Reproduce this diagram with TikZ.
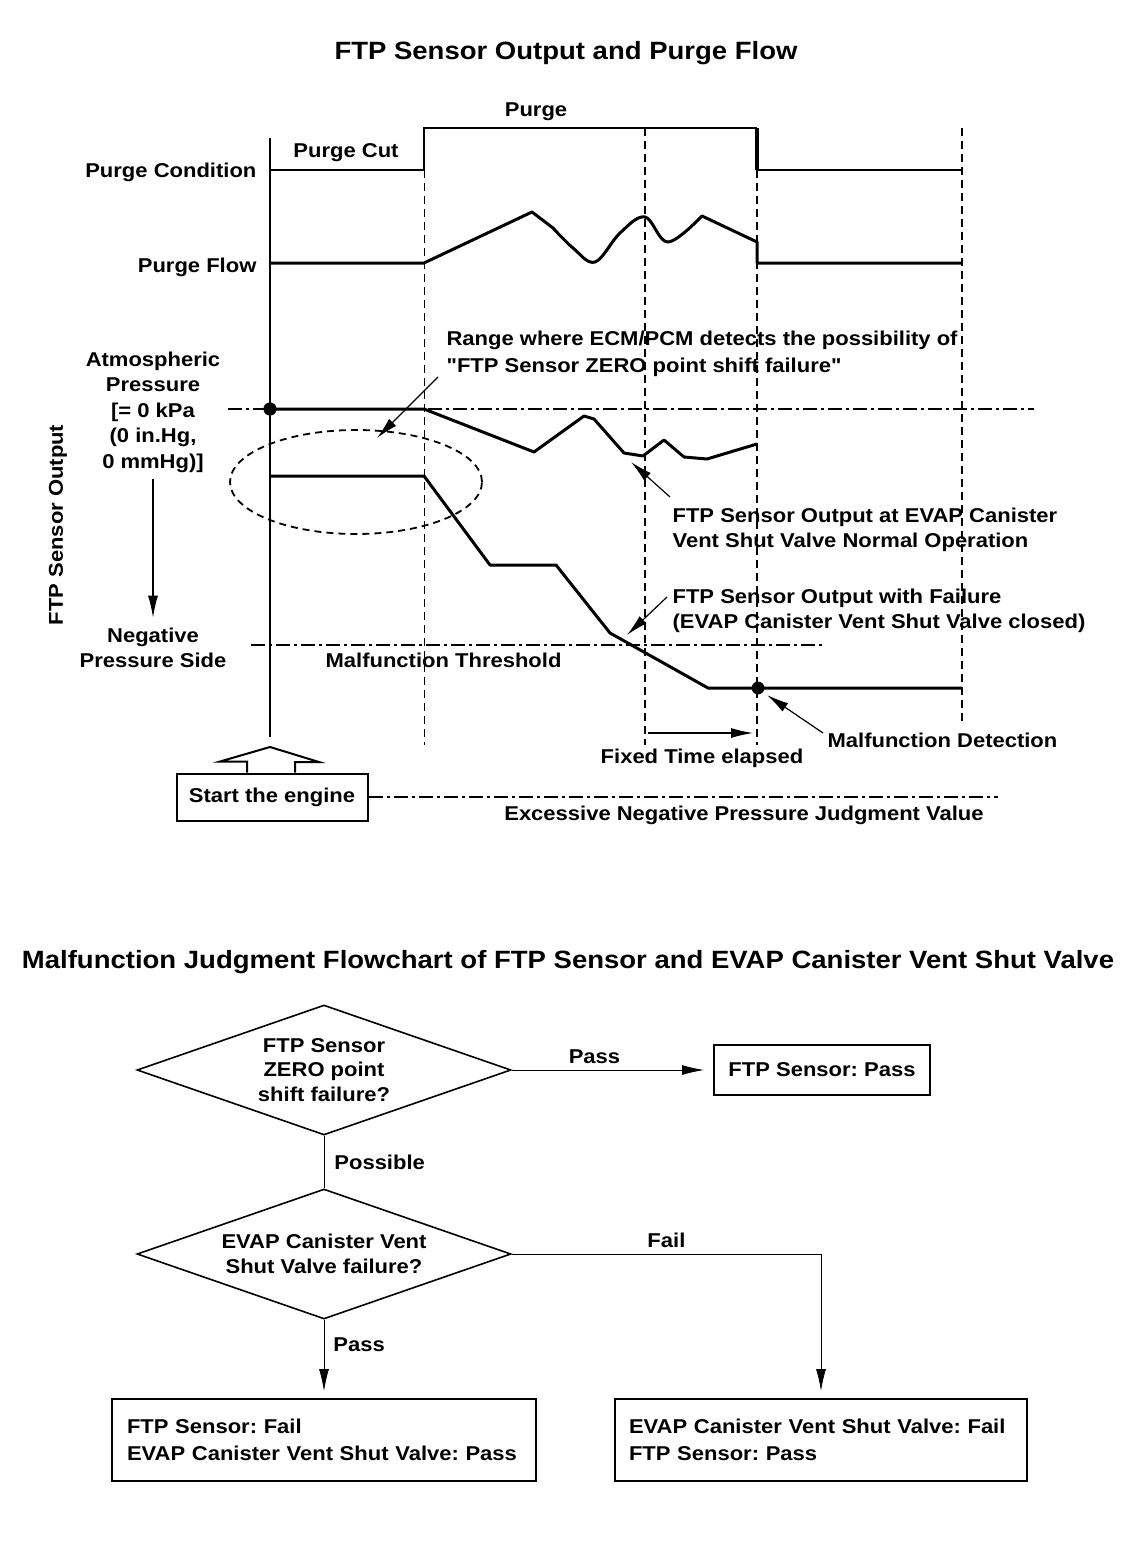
\documentclass[tikz,border=0pt]{standalone}
\usepackage{fontspec}
\newfontfamily\lblfont{Liberation Sans}[FakeStretch=1.1]
\usepackage{tikz}
\usetikzlibrary{arrows.meta,shapes.geometric}

\tikzset{
  lbl/.style     = {font=\lblfont\fontsize{10}{12.5}\selectfont\bfseries, inner sep=0pt},
  heading/.style = {font=\lblfont\fontsize{12.5}{15}\selectfont\bfseries, inner sep=0pt},
  guide/.style   = {line width=0.8pt, dash pattern=on 4pt off 2.5pt},
  dashdot/.style = {line width=1pt, dash pattern=on 7pt off 2pt on 1.5pt off 2pt},
  signal/.style  = {line width=1.5pt, line join=round},
  decide/.style  = {diamond, draw, line width=0.8pt, shape aspect=2.9, minimum width=187pt,
                    minimum height=65pt, inner sep=0pt, align=center,
                    font=\lblfont\fontsize{10}{12.25}\selectfont\bfseries},
  result/.style  = {draw, line width=1pt, align=left, minimum height=41pt,
                    font=\lblfont\fontsize{10}{13.5}\selectfont\bfseries}
}

\begin{document}
\frenchspacing
\begin{tikzpicture}[x=0.5pt, y=-0.5pt, semithick, >={Latex[length=11pt, width=5pt]}]
    \useasboundingbox (0,0) rectangle (1136,1546);

    \node[heading] (title) at (566, 53) {FTP Sensor Output and Purge Flow};

    \begin{scope}[every node/.style = {lbl}]
      \node (purge)  at (536, 112) {Purge};
      \node (cut)    at (346, 153) {Purge Cut};
      \node[anchor=east] (cond) at (257, 172) {Purge Condition};
      \node[anchor=east] (flow) at (257, 267) {Purge Flow};
      \node[align=center] (atm) at (153, 412) {Atmospheric\\[0.25pt]Pressure\\[0.25pt][= 0 kPa\\[0.25pt](0 in.Hg,\\[0.25pt]0 mmHg)]};
      \node[align=center] (neg) at (153, 648) {Negative\\Pressure Side};
      \node[rotate=90] (ylabel) at (58, 525) {FTP Sensor Output};
      \node[anchor=west, align=left, font=\lblfont\fontsize{10}{13.5}\selectfont\bfseries] (range) at (446, 354)
        {Range where ECM/PCM detects the possibility of\\"FTP Sensor ZERO point shift failure"};
      \node[anchor=west, align=left] (normal) at (672, 530)
        {FTP Sensor Output at EVAP Canister\\Vent Shut Valve Normal Operation};
      \node[anchor=west, align=left] (failure) at (672, 611)
        {FTP Sensor Output with Failure\\(EVAP Canister Vent Shut Valve closed)};
      \node[anchor=west] (thresh) at (325, 660) {Malfunction Threshold};
      \node (fixed)  at (702, 758) {Fixed Time elapsed};
      \node[anchor=west] (detect) at (827, 740) {Malfunction Detection};
      \node (excess) at (744, 815) {Excessive Negative Pressure Judgment Value};
    \end{scope}

    \draw[guide, line width=0.5pt] (424,170) -- (424,745);
    \draw[guide] (645,128) -- (645,745);
    \draw[guide] (757,170) -- (757,745);
    \draw[guide] (962,128) -- (962,723);

    \draw[dashdot] (228,409) -- (1034,409);
    \draw[dashdot] (251,645) -- (823,645);

    \draw[line width=1.2pt] (270,138) -- (270,737);
    \draw[line width=1pt] (270,170) -- (424,170) -- (424,128) -- (757,128);
    \draw[line width=1.6pt] (757,128) -- (757,170);
    \draw[line width=1pt] (757,170) -- (962,170);

    \draw[signal] (270,263) -- (424,263) -- (532,212) -- (553,228)
      plot[smooth, tension=0.6] coordinates {(553,228) (573,248) (595,262) (620,233) (645,217) (668,242) (702,216)}
      -- (757,242) -- (757,263) -- (962,263);

    \draw[signal] (270,409) -- (424,409) -- (534,452) -- (584,416) -- (594,419) -- (624,453)
      -- (643,456) -- (664,440) -- (684,457) -- (707,459) -- (757,444);
    \draw[signal] (270,476) -- (424,476) -- (490,565) -- (556,565) -- (610,633) -- (708,688) -- (962,688);

    \fill (270,409) circle (3.3pt);
    \fill (758,688) circle (3.2pt);

    \draw[dashed, line width=0.9pt, dash pattern=on 3.5pt off 2.5pt] (356,482) ellipse [x radius=63pt, y radius=26pt];

    \coordinate (rangefrom) at (438,377);
    \coordinate (rangeto)   at (377,438);
    \coordinate (normfrom)  at (670,497);
    \coordinate (normto)    at (631,462);
    \coordinate (failfrom)  at (667,597);
    \coordinate (failto)    at (627,635);
    \coordinate (fixfrom)   at (648,733);
    \coordinate (fixto)     at (753,733);
    \coordinate (detfrom)   at (823,733);
    \coordinate (detto)     at (767,695);
    \draw[->] (rangefrom) -- (rangeto);
    \draw[->] (normfrom) -- (normto);
    \draw[->] (failfrom) -- (failto);
    \draw[->] (fixfrom) -- (fixto);
    \draw[->] (detfrom) -- (detto);
    \draw[->] ([yshift=-3pt]atm.south) -- ([yshift=5pt]neg.north);

    \node[lbl, draw, line width=1pt, minimum width=95.5pt, minimum height=23.5pt] (engine) at (272, 797) {Start the engine};
    \coordinate (apex) at (270,747);
    \draw[line width=1pt] ([xshift=-12.5pt]engine.north) -- ++(0,-11) -- ++(-27,0) -- (apex)
      -- (319,762) -- ([xshift=11.5pt]engine.north |- 0,762) -- ([xshift=11.5pt]engine.north);
    \coordinate (excessend) at (998,797);
    \draw[dashdot] (engine.east) -- (excessend);

    \node[heading] (title2) at (568, 962) {Malfunction Judgment Flowchart of FTP Sensor and EVAP Canister Vent Shut Valve};

    \node[decide] (q1) at (324,1070) {FTP Sensor\\ZERO point\\shift failure?};
    \node[decide] (q2) at (324,1254) {EVAP Canister Vent\\Shut Valve failure?};
    \node[lbl, draw, line width=1pt, minimum width=108pt, minimum height=25pt] (sensorok) at (822,1070) {FTP Sensor: Pass};
    \node[result, text width=197pt, inner xsep=7.5pt] (sensorng) at (324,1440)
      {FTP Sensor: Fail\\EVAP Canister Vent Shut Valve: Pass};
    \node[result, text width=192pt, inner xsep=7pt] (valveng) at (821,1440)
      {EVAP Canister Vent Shut Valve: Fail\\FTP Sensor: Pass};

    \begin{scope}[thin, every node/.style = {lbl}]
      \draw[->] (q1.east) -- node[above=3pt, pos=0.43] {Pass} ([xshift=-4.5pt]sensorok.west);
      \draw (q1.south) -- node[right=5pt] {Possible} (q2.north);
      \draw[->] (q2.east) -| node[above=3pt, pos=0.25] {Fail} ([yshift=3.5pt]valveng.north);
      \draw[->] (q2.south) -- node[right=4.5pt, pos=0.35] {Pass} ([yshift=3.5pt]sensorng.north);
    \end{scope}
\end{tikzpicture}
\end{document}
